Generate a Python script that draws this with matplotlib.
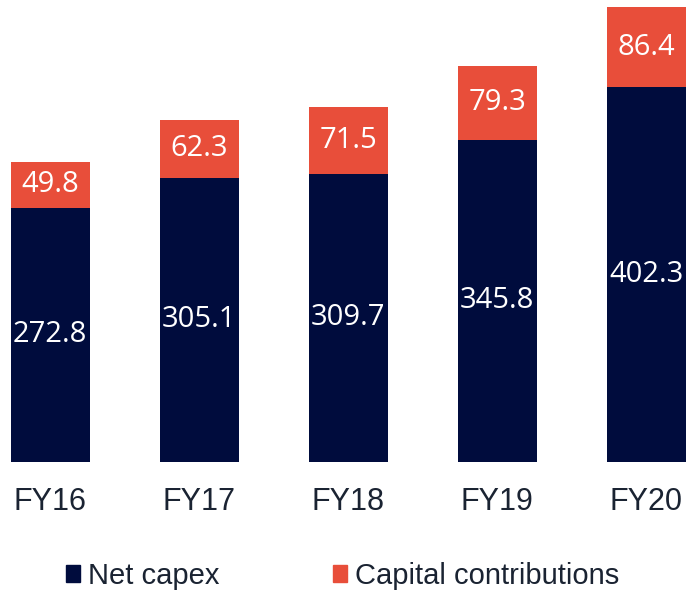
import matplotlib.pyplot as plt
from matplotlib.patches import Patch

years = ["FY16", "FY17", "FY18", "FY19", "FY20"]
net_capex = [272.8, 305.1, 309.7, 345.8, 402.3]
capital_contrib = [49.8, 62.3, 71.5, 79.3, 86.4]

navy = "#000c3d"
red = "#e84e3a"
txt = "#1a2332"

fig = plt.figure(figsize=(6.87, 5.90), dpi=100)
ax = fig.add_axes([0, 128 / 590, 1, 462 / 590])

x = list(range(len(years)))
ax.bar(x, net_capex, width=0.53, color=navy)
ax.bar(x, capital_contrib, width=0.53, bottom=net_capex, color=red)

for i in x:
    ax.text(i, net_capex[i] / 2, f"{net_capex[i]:.1f}", ha="center", va="center",
            color="white", fontsize=21, family="Open Sans")
    ax.text(i, net_capex[i] + capital_contrib[i] / 2, f"{capital_contrib[i]:.1f}",
            ha="center", va="center", color="white", fontsize=21, family="Open Sans")

ax.set_xlim(-0.336, 4.275)
ax.set_ylim(0, 496)
ax.set_xticks(x)
ax.set_xticklabels(years, fontsize=22, color=txt, family="Liberation Sans")
ax.tick_params(axis="x", length=0, pad=18)
ax.set_yticks([])
for s in ax.spines.values():
    s.set_visible(False)

handles = [Patch(color=navy, label="Net capex"), Patch(color=red, label="Capital contributions")]
leg = fig.legend(handles=handles, loc="center", bbox_to_anchor=(0.499, 0.024), ncol=2,
                 frameon=False, handlelength=0.48, handleheight=0.48, handletextpad=0.28,
                 columnspacing=3.9, prop={"family": "Liberation Sans", "size": 21})
for t in leg.get_texts():
    t.set_color(txt)

fig.savefig("out.png", dpi=100)
